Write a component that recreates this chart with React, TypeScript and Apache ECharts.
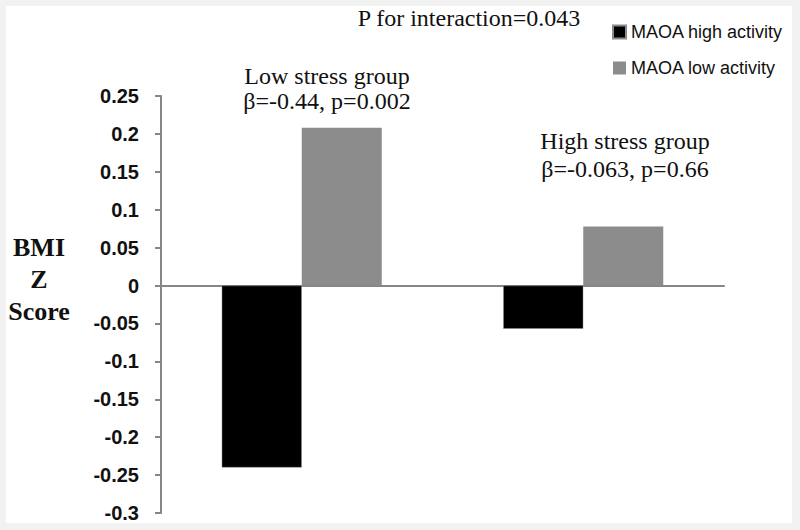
import React, { useEffect, useRef } from "react";
import * as echarts from "echarts";

const categories = ["Low stress group", "High stress group"];
const seriesNames = ["MAOA high activity", "MAOA low activity"];
const highActivity = [-0.24, -0.057];
const lowActivity = [0.208, 0.078];
const yTicks = { min: -0.3, max: 0.25, interval: 0.05 };
const interactionText = "P for interaction=0.043";
const lowStressLabel = ["Low stress group", "β=-0.44, p=0.002"];
const highStressLabel = ["High stress group", "β=-0.063, p=0.66"];
const yAxisTitle = ["BMI", "Z", "Score"];

const serif = "'Liberation Serif', 'Times New Roman', Times, serif";
const sans = "'Liberation Sans', Arial, sans-serif";

function label(text: string, x: number, y: number, size: number, bold = false, lineHeight?: number) {
  return {
    type: "text",
    x,
    y,
    z: 10,
    style: {
      text,
      fontFamily: serif,
      fontSize: size,
      fontWeight: bold ? "bold" : "normal",
      lineHeight,
      fill: "#111",
      align: "center",
      verticalAlign: "middle",
    },
  };
}

export default function App() {
  const ref = useRef<HTMLDivElement>(null);
  useEffect(() => {
    if (!ref.current) return;
    const chart = echarts.init(ref.current, undefined, { renderer: "svg" });
    chart.setOption({
      animation: false,
      backgroundColor: "#f2f2f2",
      grid: { left: 161, right: 76, top: 96, bottom: 17, containLabel: false },
      legend: {
        orient: "vertical",
        left: 607,
        top: 18,
        itemWidth: 13,
        itemHeight: 13,
        itemGap: 18,
        icon: "rect",
        textStyle: { fontFamily: sans, fontSize: 18, lineHeight: 18, color: "#111" },
        data: seriesNames,
      },
      xAxis: {
        type: "category",
        data: categories,
        axisLine: { onZero: true, lineStyle: { color: "#868686", width: 2 } },
        axisTick: { show: false },
        axisLabel: { show: false },
        splitLine: { show: false },
      },
      yAxis: {
        type: "value",
        min: yTicks.min,
        max: yTicks.max,
        interval: yTicks.interval,
        axisLine: { show: true, lineStyle: { color: "#868686", width: 2 } },
        axisTick: { show: true, length: 6, lineStyle: { color: "#868686", width: 2 } },
        axisLabel: {
          margin: 22,
          fontFamily: sans,
          fontWeight: "bold",
          fontSize: 20,
          color: "#111",
          formatter: (v: number) => String(+v.toFixed(2)),
        },
        splitLine: { show: false },
      },
      series: [
        {
          name: seriesNames[0],
          type: "bar",
          data: highActivity,
          barWidth: 80,
          barGap: "0%",
          itemStyle: { color: "#000000", borderColor: "#8a8a8a", borderWidth: 0.5 },
        },
        {
          name: seriesNames[1],
          type: "bar",
          data: lowActivity,
          barWidth: 80,
          itemStyle: { color: "#8c8c8c" },
        },
      ],
      graphic: [
        {
          type: "rect",
          z: -100,
          silent: true,
          shape: { x: 6, y: 6, width: 786, height: 517 },
          style: { fill: "#ffffff" },
        },
        label(interactionText, 469, 18, 24),
        label(lowStressLabel.join("\n"), 327, 88, 24, false, 25),
        label(highStressLabel.join("\n"), 625, 155, 24, false, 28),
        label(yAxisTitle.join("\n"), 39, 279, 26, true, 32),
      ],
    });
    return () => chart.dispose();
  }, []);
  return (
    <div
      ref={ref}
      style={{ position: "fixed", left: 0, top: 0, width: 800, height: 530 }}
    />
  );
}
